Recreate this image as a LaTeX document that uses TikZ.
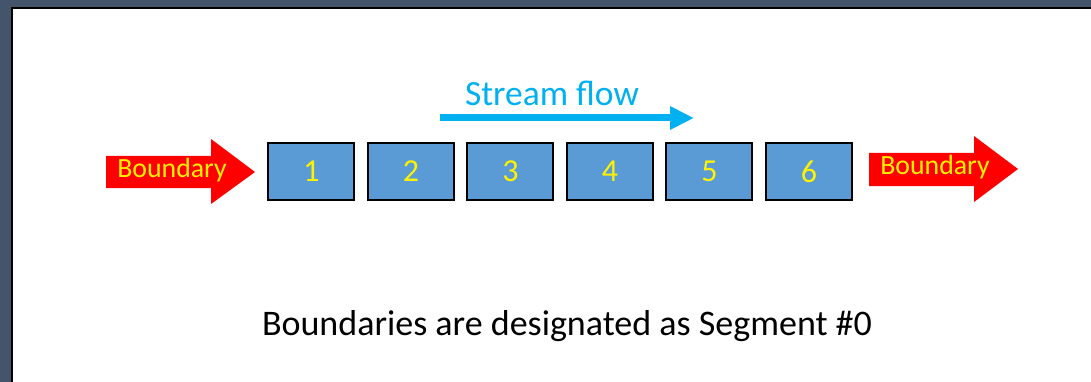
\documentclass[tikz,border=0pt]{standalone}
\usepackage{fontspec}
\setmainfont{Carlito}
\usetikzlibrary{arrows.meta}
\definecolor{frame}{HTML}{44546A}
\definecolor{segblue}{HTML}{5B9BD5}
\definecolor{flowcyan}{HTML}{00B0F0}
\tikzset{
  seg/.style={draw=black, line width=2pt, fill=segblue, minimum width=86pt, minimum height=57pt,
    inner sep=0pt, text=yellow, font=\fontsize{32}{34}\selectfont},
  bndtext/.style={anchor=base, inner sep=0pt, text=yellow, font=\fontsize{27.8}{30}\selectfont},
}
\begin{document}
\begin{tikzpicture}[x=1pt, y=-1pt]
  \useasboundingbox (0,0) rectangle (1091,382);
  % slide frame
  \fill[frame] (0,0) rectangle (1091,382);
  \fill[white] (13,9) rectangle (1092,383);
  \draw[line width=2pt] (12,383) -- (12,8) -- (1092,8);
  % boundary arrows
  \fill[red] (106,156) -- (211,156) -- (211,139) -- (255,172) -- (211,204) -- (211,188) -- (106,188) -- cycle;
  \node[bndtext] (bndin) at (172,177.7) {Boundary};
  \fill[red] (869,153) -- (974,153) -- (974,136) -- (1018,169) -- (974,202) -- (974,186) -- (869,186) -- cycle;
  \node[bndtext] (bndout) at (935,175) {Boundary};
  % segments
  \foreach \i in {1,...,6} {
    \node[seg] (s\i) at (311.4+\i*99.5-99.5,171.5) {\i};
  }
  % stream flow
  \coordinate (flowa) at (440,118);
  \coordinate (flowb) at (694,118);
  \draw[flowcyan, line width=7pt, -{Triangle[length=24pt,width=22pt]}] (flowa) -- (flowb);
  \node[anchor=base, inner sep=0pt, text=flowcyan, font=\fontsize{35.5}{38}\selectfont] (flowlbl) at (552,106) {Stream flow};
  \node[anchor=base, inner sep=0pt, font=\fontsize{36}{39}\selectfont] (note) at (567,335) {Boundaries are designated as Segment \#0};
\end{tikzpicture}
\end{document}
